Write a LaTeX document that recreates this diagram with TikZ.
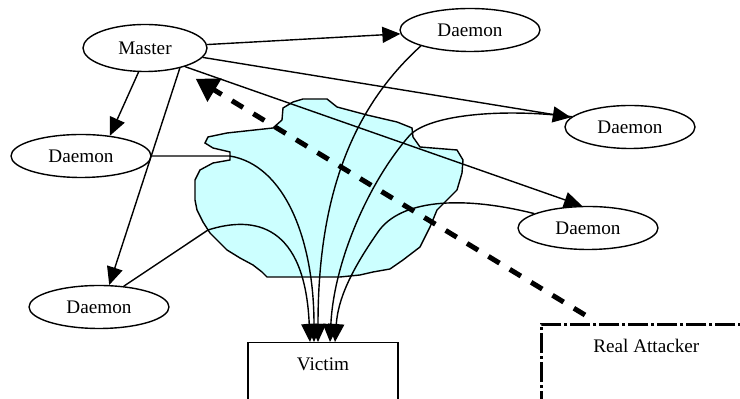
\documentclass[tikz,border=0pt]{standalone}
\usepackage{fontspec}
\setmainfont{Liberation Serif}
\usetikzlibrary{arrows.meta,shapes.geometric,calc}
\tikzset{>={Triangle[length=9pt,width=8pt]}}
\definecolor{cloudcyan}{HTML}{CCFFFF}
\tikzstyle{host}=[ellipse,draw,line width=0.7pt,inner sep=0,minimum width=70pt,minimum height=21.5pt,font=\fontsize{9.6}{11}\selectfont]
\tikzstyle{box}=[rectangle,draw,line width=0.7pt,inner ysep=7pt,text height=7pt,text depth=40pt,font=\fontsize{9.6}{11}\selectfont]
\tikzset{
	cmd/.style={
		draw, ->, line width=0.7pt,
	},
	flood/.style={
		draw, ->, line width=0.7pt,
	},
	attack/.style={
		draw, -{Triangle[length=11pt,width=13pt]}, line width=2.5pt,
		dash pattern=on 6.5pt off 6pt, shorten >=10pt,
	}
}

\begin{document}
\begin{tikzpicture}[x=0.5pt, y=-0.5pt]
	\useasboundingbox (0,0) rectangle (740,399);
	\clip (0,0) rectangle (740,399);
	% Cloud of intermediate network
	\draw[line width=0.7pt, fill=cloudcyan] (303,99) -- (327,99) -- (337,107) -- (367,115) -- (397,122) -- (412,128) -- (413,137) -- (420,147) -- (457,150) -- (463,160) -- (462,173) -- (457,190) -- (447,200) -- (437,210) -- (430,227) -- (420,247) -- (403,260) -- (390,269) -- (373,272) -- (360,275) -- (340,277) -- (267,277) -- (262,272) -- (253,265) -- (240,258) -- (227,250) -- (210,233) -- (203,222) -- (197,210) -- (195,200) -- (195,180) -- (200,170) -- (213,163) -- (230,160) -- (230,152) -- (213,148) -- (205,143) -- (208,137) -- (227,133) -- (273,128) -- (282,120) -- (283,108) -- (293,102) -- cycle;
	% Define nodes
	\node[host, minimum width=62pt, minimum height=23.5pt] (master) at (145,48) {Master};
	\node[host] (dtop) at (470,30) {Daemon};
	\node[host, minimum width=65pt] (dright1) at (630,127) {Daemon};
	\node[host] (dleft1) at (81,156) {Daemon};
	\node[host] (dright2) at (588,228) {Daemon};
	\node[host] (dbl) at (99,307) {Daemon};
	\node[box, anchor=north, minimum width=75pt] (victim) at (323,342) {Victim};
	\node[box, anchor=north west, minimum width=105pt, line width=1.3pt,
		dash pattern=on 10pt off 1.5pt on 1.5pt off 1.5pt] (attacker) at (540,323) {Real Attacker};
	% Master commands the daemons
	\draw[cmd] (master) -- (dtop);
	\draw[cmd] (master) -- (dright1);
	\draw[cmd] (master.-25) -- (dright2.105);
	\draw[cmd] (master.255) -- (dleft1.35);
	\draw[cmd] (master.-30) -- (dbl.65);
	% Daemons flood the victim
	\draw[flood] (dleft1.east) -- ++(78,0) .. controls (285,165) and (314,240) .. ($(victim.north)+(-9,0)$);
	\draw[flood] (dtop.198) .. controls (350,110) and (318,200) .. ($(victim.north)+(-5,0)$);
	\draw[flood] (dright1.170) .. controls (500,108) and (430,115) .. (410,135)
		.. controls (370,180) and (334,260) .. ($(victim.north)+(7,0)$);
	\draw[flood] (dright2.165) .. controls (460,195) and (400,200) .. (378,232)
		.. controls (350,272) and (338,300) .. ($(victim.north)+(12,0)$);
	\draw[flood] (dbl.40) -- (208,230) .. controls (255,215) and (305,225) .. ($(victim.north)+(-13,0)$);
	% Real attacker controls the master
	\draw[attack] ($(attacker.north west)+(45,-8)$) -- (master);
\end{tikzpicture}
\end{document}
